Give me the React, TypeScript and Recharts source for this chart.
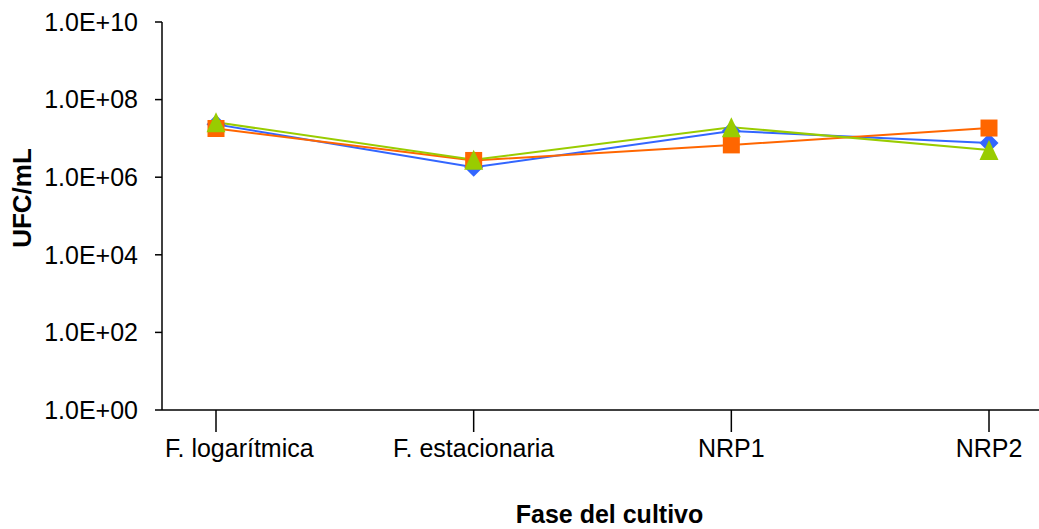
import React from 'react';
import { LineChart, Line, XAxis, YAxis } from 'recharts';

const categories = ['F. logarítmica', 'F. estacionaria', 'NRP1', 'NRP2'];
const serieAzul = [2.3e7, 1.8e6, 1.55e7, 7.6e6];
const serieNaranja = [1.8e7, 2.7e6, 6.8e6, 1.85e7];
const serieVerde = [2.6e7, 2.8e6, 1.95e7, 5.0e6];
const yTicks = [1, 1e2, 1e4, 1e6, 1e8, 1e10];

const BLUE = '#3366FF';
const ORANGE = '#FF6600';
const GREEN = '#99CC00';
const FONT = '"Liberation Sans", Arial, sans-serif';

const data = categories.map((name, i) => ({
  name,
  azul: serieAzul[i],
  naranja: serieNaranja[i],
  verde: serieVerde[i],
}));

const formatExp = (v: number) => {
  const e = Math.round(Math.log10(v));
  return `1.0E+${e < 10 ? '0' + e : e}`;
};

// first label is nudged right so it clears the y axis labels, like the original
const CategoryTick = (props: any) => {
  const { x, y, payload, index } = props;
  const first = index === 0;
  return (
    <text
      x={x}
      y={y}
      dy="0.71em"
      dx={first ? -51 : 0}
      textAnchor={first ? 'start' : 'middle'}
      fill="#000"
      fontSize={25}
      fontFamily={FONT}
    >
      {payload.value}
    </text>
  );
};

const Diamond = (props: any) => {
  const { cx, cy } = props;
  if (cx == null || cy == null) return null;
  const r = 9.5;
  return (
    <polygon
      points={`${cx},${cy - r} ${cx + r},${cy} ${cx},${cy + r} ${cx - r},${cy}`}
      fill={BLUE}
    />
  );
};

const Square = (props: any) => {
  const { cx, cy } = props;
  if (cx == null || cy == null) return null;
  const s = 17;
  return <rect x={cx - s / 2} y={cy - s / 2} width={s} height={s} fill={ORANGE} />;
};

const Triangle = (props: any) => {
  const { cx, cy } = props;
  if (cx == null || cy == null) return null;
  const w = 19;
  const h = 20;
  return (
    <polygon
      points={`${cx},${cy - h / 2} ${cx + w / 2},${cy + h / 2} ${cx - w / 2},${cy + h / 2}`}
      fill={GREEN}
    />
  );
};

export default function App() {
  return (
    <div style={{ width: 1039, height: 529, background: '#fff', fontFamily: FONT }}>
      <style>{'body{margin:0}'}</style>
      <LineChart
        width={1039}
        height={529}
        data={data}
        margin={{ top: 22, right: 0, bottom: 0, left: 0 }}
      >
        <XAxis
          dataKey="name"
          padding={{ left: 54, right: 50 }}
          height={119}
          stroke="#000"
          strokeWidth={1.5}
          tickSize={22}
          tickMargin={7}
          interval={0}
          tick={<CategoryTick />}
          label={{
            value: 'Fase del cultivo',
            position: 'insideBottom',
            offset: 6,
            dx: 9,
            fill: '#000',
            fontSize: 25,
            fontWeight: 'bold',
            fontFamily: FONT,
          }}
        />
        <YAxis
          scale="log"
          domain={[1, 1e10]}
          ticks={yTicks}
          allowDataOverflow
          width={162}
          stroke="#000"
          strokeWidth={1.5}
          tickSize={7}
          tickMargin={17}
          tickFormatter={formatExp}
          tick={{ fill: '#000', fontSize: 25, fontFamily: FONT }}
          label={{
            value: 'UFC/mL',
            angle: -90,
            position: 'insideLeft',
            offset: 22,
            dy: -18,
            fill: '#000',
            fontSize: 26,
            fontWeight: 'bold',
            fontFamily: FONT,
            style: { textAnchor: 'middle' },
          }}
        />
        <Line
          dataKey="azul"
          stroke={BLUE}
          strokeWidth={2}
          dot={<Diamond />}
          activeDot={false}
          isAnimationActive={false}
        />
        <Line
          dataKey="naranja"
          stroke={ORANGE}
          strokeWidth={2}
          dot={<Square />}
          activeDot={false}
          isAnimationActive={false}
        />
        <Line
          dataKey="verde"
          stroke={GREEN}
          strokeWidth={2}
          dot={<Triangle />}
          activeDot={false}
          isAnimationActive={false}
        />
      </LineChart>
    </div>
  );
}
